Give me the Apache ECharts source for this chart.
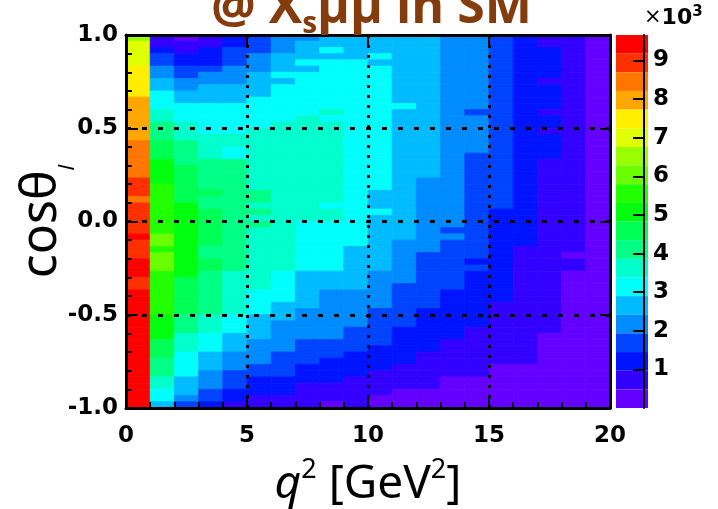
<!DOCTYPE html>
<html><head><meta charset="utf-8">
<script src="https://cdn.jsdelivr.net/npm/echarts/dist/echarts.min.js"></script>
<style>html,body{margin:0;padding:0;background:#fff}#c{width:718px;height:509px}</style>
</head><body><div id="c"></div>
<script>
// q^2 bin edges (GeV^2)
const q2Edges = [0,1,2,3,4,5,6,7,8,9,10,11,12,13,14,15,16,17,18,19,20];
// cos(theta_l) binning
const cosRange = [-1, 1];
const nCosBins = 60;
// colour-scale range (x10^3 events)
const zRange = [0, 9.66];
const xTicks = [0, 5, 10, 15, 20];
const yTicks = [-1.0, -0.5, 0.0, 0.5, 1.0];
const zTicks = [1, 2, 3, 4, 5, 6, 7, 8, 9];
const palette = ['#6300ff','#3300ff','#0014ff','#0044ff','#008bff','#00bbff','#00fffc','#00ffcc','#00ff85','#00ff55',
                 '#00ff0e','#22ff00','#69ff00','#99ff00','#e0ff00','#ffee00','#ffa700','#ff7700','#ff3000','#ff0000'];

// Entries per bin (x10^3), one array per q^2 bin, listed from cos = +1 (top) down to cos = -1 (bottom)
const c0 = [6.5,7.0,7.0,7.0,7.0,7.5,7.5,7.5,7.5,7.5, 8.0,8.0,8.0,8.0,8.0,8.0,8.0,8.5,8.5,8.5, 8.5,8.5,8.5,9.0,9.0,9.0,8.5,9.0,9.0,9.0, 9.0,9.0,9.4,9.0,9.0,9.0,9.4,9.4,9.4,9.0, 9.0,9.4,9.4,9.4,9.4,9.4,9.4,9.4,9.4,9.4, 9.4,9.4,9.4,9.4,9.4,9.4,9.4,9.4,9.4,9.4];
const c1 = [0.8,0.8,1.3,1.8,1.8,2.2,2.2,2.7,2.7,3.2, 3.2,3.2,3.7,3.7,4.2,4.2,4.2,4.6,4.6,4.6, 5.1,5.1,5.1,5.1,5.6,5.6,5.6,5.6,5.6,5.6, 5.6,5.6,6.1,6.1,5.6,6.1,6.1,6.1,5.6,5.6, 5.6,5.6,5.6,5.6,5.6,5.1,5.1,5.1,5.1,4.6, 4.6,4.6,4.2,4.2,4.2,3.7,3.7,3.2,3.2,2.7];
const c2 = [0.3,0.8,0.8,1.3,1.3,1.8,1.8,2.2,2.2,2.7, 2.7,3.2,3.2,3.2,3.7,3.7,3.7,4.2,4.2,4.2, 4.2,4.6,4.6,4.6,4.6,4.6,4.6,5.1,5.1,5.1, 5.1,5.1,5.1,5.1,5.1,5.1,5.1,5.1,5.1,4.6, 4.6,4.6,4.6,4.6,4.6,4.2,4.2,4.2,3.7,3.7, 3.7,3.2,3.2,3.2,3.2,2.7,2.7,2.7,2.2,1.8];
const c3 = [0.8,0.8,1.3,1.3,1.3,1.8,2.2,2.2,2.7,2.7, 2.7,3.2,3.2,3.2,3.2,3.2,3.7,3.7,3.7,3.7, 4.2,4.2,4.2,4.2,4.2,4.6,4.2,4.2,4.6,4.6, 4.6,4.6,4.6,4.6,4.2,4.2,4.6,4.6,4.2,4.2, 4.2,4.2,4.2,4.2,4.2,3.7,3.7,3.7,3.2,3.2, 3.2,2.7,2.7,2.7,2.2,2.2,2.2,1.8,1.8,1.3];
const c4 = [1.3,1.3,1.8,1.8,1.8,2.2,2.2,2.2,2.7,2.7, 2.7,3.2,3.2,3.2,3.2,3.2,3.7,3.7,3.2,3.2, 4.2,4.2,4.2,4.2,4.2,4.2,4.2,4.2,4.2,4.2, 4.2,4.2,4.2,4.2,4.2,4.2,4.2,4.2,3.7,3.7, 3.7,3.7,3.7,3.7,3.7,3.2,3.2,3.2,2.7,2.7, 2.7,2.2,2.2,2.2,1.8,1.8,1.8,1.3,1.3,0.8];
const c5 = [1.8,1.8,1.8,2.2,2.2,2.2,2.7,2.7,2.7,2.7, 3.2,3.2,3.2,3.2,3.2,3.7,3.7,3.7,3.7,3.7, 3.7,3.7,3.7,3.7,3.7,4.2,4.2,3.7,4.2,3.7, 4.2,3.7,3.7,3.7,3.7,3.7,3.7,3.7,3.7,3.7, 3.7,3.2,3.2,3.2,3.2,2.7,2.7,2.7,2.7,2.2, 2.2,2.2,2.2,1.8,1.8,1.3,1.3,1.3,0.8,0.8];
const c6 = [2.2,2.2,2.2,2.7,2.7,2.7,3.2,2.7,3.2,3.2, 3.2,3.2,3.2,3.2,3.7,3.7,3.7,3.7,3.7,3.7, 3.7,3.7,3.7,3.7,3.7,3.7,3.7,3.7,3.7,3.7, 3.7,3.7,3.7,3.7,3.7,3.7,3.7,3.7,3.2,3.2, 3.2,3.2,3.2,2.7,2.7,2.7,2.2,2.2,2.2,2.2, 2.2,1.8,1.8,1.8,1.8,1.3,1.3,1.3,0.8,0.8];
const c7 = [2.2,2.7,2.7,2.7,3.2,2.7,3.2,3.2,3.2,3.2, 3.2,3.2,3.2,3.7,3.7,3.7,3.7,3.7,3.7,3.7, 3.7,3.7,3.7,3.7,3.7,3.7,3.7,3.7,3.7,3.7, 3.2,3.2,3.2,3.2,3.2,3.2,3.2,3.2,2.7,2.7, 2.7,2.7,2.7,2.7,2.2,2.2,2.2,2.2,2.2,1.8, 1.8,1.8,1.8,1.3,1.3,1.3,0.8,0.8,0.8,0.8];
const c8 = [2.7,2.7,3.2,2.7,3.2,3.2,3.2,3.2,3.2,3.2, 3.2,3.2,3.7,3.2,3.7,3.7,3.7,3.7,3.7,3.7, 3.7,3.7,3.7,3.7,3.7,3.7,3.7,3.2,3.7,3.7, 3.2,3.2,3.2,3.2,3.2,3.2,3.2,3.2,2.7,2.7, 2.7,2.2,2.2,2.2,2.2,2.2,2.2,2.2,2.2,1.8, 1.8,1.8,1.3,1.3,1.3,1.3,0.8,0.8,0.8,0.3];
const c9 = [2.7,2.7,2.7,2.7,3.2,3.2,3.2,3.2,3.2,3.2, 3.2,3.2,3.2,3.2,3.2,3.2,3.2,3.2,3.2,3.2, 3.2,3.2,3.2,3.2,3.2,3.2,3.2,3.2,3.2,3.2, 3.2,3.2,3.2,3.2,2.7,2.7,2.7,2.7,2.7,2.7, 2.7,2.2,2.2,2.2,2.2,2.2,2.2,1.8,1.8,1.8, 1.8,1.3,1.3,1.3,1.3,0.8,0.8,0.8,0.8,0.8];
const c10 = [2.7,2.7,2.7,3.2,2.7,3.2,3.2,3.2,3.2,3.2, 3.2,3.2,3.2,3.2,3.2,3.2,3.2,3.2,3.2,3.2, 3.2,3.2,3.2,3.2,3.2,2.7,2.7,2.7,3.2,2.7, 2.7,2.7,2.7,2.7,2.7,2.7,2.7,2.7,2.2,2.2, 2.2,2.2,2.2,2.2,1.8,1.8,1.8,1.8,1.8,1.8, 1.3,1.3,1.3,1.3,0.8,0.8,0.8,0.8,0.3,0.3];
const c11 = [2.7,2.7,2.7,2.7,2.7,2.7,2.7,2.7,2.7,2.7, 2.7,3.2,2.7,2.7,2.7,2.7,2.7,2.7,2.7,2.7, 2.7,2.7,2.7,2.7,2.7,2.7,2.7,2.7,2.7,2.7, 2.7,2.7,2.7,2.2,2.2,2.2,2.2,2.2,2.2,2.2, 1.8,1.8,1.8,1.8,1.8,1.8,1.8,1.3,1.3,1.3, 1.3,1.3,1.3,0.8,0.8,0.8,0.8,0.3,0.3,0.3];
const c12 = [2.7,2.7,2.7,2.7,2.7,2.7,2.7,2.7,2.7,2.7, 2.7,2.7,2.7,2.7,2.7,2.7,2.7,2.7,2.7,2.7, 2.7,2.7,2.7,2.2,2.2,2.2,2.2,2.2,2.2,2.2, 2.2,2.2,2.2,2.2,2.2,1.8,1.8,1.8,1.8,1.8, 1.8,1.8,1.8,1.8,1.3,1.3,1.3,1.3,1.3,1.3, 1.3,0.8,0.8,0.8,0.8,0.8,0.8,0.3,0.3,0.3];
const c13 = [2.2,2.2,2.2,2.2,2.2,2.2,2.2,2.2,2.2,2.2, 2.2,2.2,2.2,2.2,2.2,2.2,2.2,2.2,2.2,2.2, 2.2,2.2,2.2,2.2,2.2,2.2,2.2,2.2,2.2,2.2, 2.2,1.8,2.2,1.8,1.8,1.8,1.8,1.8,1.8,1.8, 1.8,1.3,1.3,1.3,1.3,1.3,1.3,1.3,1.3,0.8, 0.8,0.8,0.8,0.8,0.8,0.3,0.3,0.3,0.3,0.3];
const c14 = [2.2,2.2,2.2,2.2,2.2,2.2,2.2,2.2,2.2,2.2, 2.2,2.2,1.8,2.2,2.2,2.2,2.2,2.2,2.2,1.8, 1.8,1.8,1.8,1.8,1.8,1.8,1.8,1.8,1.8,1.8, 1.8,1.8,1.8,1.8,1.8,1.8,1.3,1.8,1.3,1.3, 1.3,1.3,1.3,1.3,1.3,1.3,1.3,0.8,0.8,0.8, 0.8,0.8,0.8,0.8,0.8,0.3,0.3,0.3,0.3,0.3];
const c15 = [1.8,1.8,1.8,1.8,1.8,1.8,1.8,1.8,1.8,1.8, 1.8,1.8,1.8,1.8,1.8,1.8,1.8,1.8,1.8,1.8, 1.8,1.8,1.8,1.8,1.8,1.8,1.8,1.8,1.3,1.3, 1.3,1.3,1.3,1.3,1.3,1.3,1.3,1.3,1.3,1.3, 1.3,1.3,1.3,0.8,0.8,0.8,0.8,0.8,0.8,0.8, 0.8,0.8,0.8,0.3,0.3,0.3,0.3,0.3,0.3,0.3];
const c16 = [1.3,1.3,1.3,1.3,1.3,1.3,1.3,1.3,1.3,1.3, 1.3,1.3,1.3,1.3,1.3,1.3,1.3,1.3,1.3,1.3, 1.3,1.3,1.3,1.3,1.3,1.3,1.3,1.3,1.3,1.3, 1.3,1.3,1.3,1.3,0.8,0.8,0.8,0.8,0.8,0.8, 0.8,0.8,0.8,0.8,0.8,0.8,0.8,0.8,0.8,0.8, 0.8,0.8,0.8,0.3,0.3,0.3,0.3,0.3,0.3,0.3];
const c17 = [0.8,0.8,1.3,1.3,1.3,1.3,1.3,0.8,1.3,1.3, 1.3,1.3,0.8,1.3,1.3,0.8,1.3,1.3,1.3,1.3, 0.8,0.8,0.8,0.8,0.8,0.8,0.8,0.8,0.8,0.8, 0.8,0.8,0.8,0.8,0.8,0.8,0.8,0.8,0.8,0.8, 0.8,0.8,0.8,0.8,0.8,0.8,0.8,0.8,0.3,0.3, 0.3,0.3,0.3,0.3,0.3,0.3,0.3,0.3,0.3,0.3];
const c18 = [0.8,0.8,0.8,0.8,0.8,0.8,0.8,0.8,0.8,0.8, 0.8,0.8,0.8,0.8,0.8,0.8,0.8,0.8,0.8,0.8, 0.8,0.8,0.8,0.8,0.8,0.8,0.8,0.8,0.8,0.8, 0.8,0.8,0.8,0.8,0.8,0.3,0.8,0.8,0.3,0.3, 0.3,0.3,0.3,0.3,0.3,0.3,0.3,0.3,0.3,0.3, 0.3,0.3,0.3,0.3,0.3,0.3,0.3,0.3,0.3,0.3];
const c19 = [0.3,0.3,0.3,0.3,0.3,0.3,0.3,0.3,0.3,0.3, 0.3,0.3,0.3,0.3,0.3,0.3,0.3,0.3,0.3,0.3, 0.3,0.3,0.3,0.3,0.3,0.3,0.3,0.3,0.3,0.3, 0.3,0.3,0.3,0.3,0.3,0.3,0.3,0.3,0.3,0.3, 0.3,0.3,0.3,0.3,0.3,0.3,0.3,0.3,0.3,0.3, 0.3,0.3,0.3,0.3,0.3,0.3,0.3,0.3,0.3,0.3];
const columns = [c0,c1,c2,c3,c4,c5,c6,c7,c8,c9,c10,c11,c12,c13,c14,c15,c16,c17,c18,c19];

// ---- build histogram cells: [q2lo, q2hi, coslo, coshi, value]
const binW = (cosRange[1] - cosRange[0]) / nCosBins;
const cells = [];
columns.forEach(function (col, i) {
  col.forEach(function (v, r) {
    const hi = cosRange[1] - r * binW;
    cells.push([q2Edges[i], q2Edges[i + 1], hi - binW, hi, v]);
  });
});
const step = (zRange[1] - zRange[0]) / palette.length;
const pieces = palette.map(function (c, k) {
  return { min: zRange[0] + k * step, max: zRange[0] + (k + 1) * step, color: c };
});

const TICKFONT = 'DejaVu Sans';
const BLACK = '#000';
const chart = echarts.init(document.getElementById('c'), null, { renderer: 'canvas' });
const option = {
  animation: false,
  backgroundColor: '#fff',
  title: {
    text: '{a|@ X}{s|s}{a|μμ in SM}',
    left: 211, top: -21, padding: 0,
    textStyle: {
      rich: {
        a: { fontFamily: 'Open Sans', fontWeight: 'bold', fontSize: 50, lineHeight: 60, color: '#843C0C' },
        s: { fontFamily: 'Open Sans', fontWeight: 'bold', fontSize: 30, lineHeight: 30, verticalAlign: 'bottom', color: '#843C0C' }
      }
    }
  },
  grid: [
    { left: 126, top: 35, width: 484, height: 373, outerBoundsMode: 'none', containLabel: false },
    { left: 616, top: 35, width: 28, height: 373, outerBoundsMode: 'none', containLabel: false }
  ],
  visualMap: {
    type: 'piecewise', seriesIndex: 0, dimension: 4,
    pieces: pieces, orient: 'vertical',
    left: 616, top: 35, itemWidth: 32, itemHeight: 373 / 20, itemGap: 0,
    itemSymbol: 'rect', showLabel: false, selectedMode: false, hoverLink: false,
    padding: 0, z: 4
  },
  xAxis: [
    {
      type: 'value', gridIndex: 0, position: 'bottom', min: xTicks[0], max: xTicks[xTicks.length - 1], interval: 5,
      axisLine: { show: true, onZero: false, lineStyle: { color: BLACK, width: 3 } },
      axisTick: { show: true, inside: true, length: 12, lineStyle: { color: BLACK, width: 2 } },
      minorTick: { show: true, splitNumber: 5, length: 6, lineStyle: { color: BLACK, width: 2 } },
      axisLabel: { color: BLACK, fontFamily: TICKFONT, fontWeight: 'bold', fontSize: 23, margin: 17 },
      splitLine: { show: true, lineStyle: { color: BLACK, width: 3, type: [3, 7] } },
      name: '{q|q}{sup|2}{t| [GeV}{sup|2}{t|]}', nameLocation: 'middle', nameGap: 49, nameMoveOverlap: false,
      nameTextStyle: {
        rich: {
          q: { fontFamily: 'Noto Sans', fontStyle: 'italic', fontSize: 46, lineHeight: 56, color: BLACK },
          t: { fontFamily: 'Noto Sans', fontSize: 46, lineHeight: 56, color: BLACK },
          sup: { fontFamily: 'Noto Sans', fontSize: 27, lineHeight: 32, verticalAlign: 'top', color: BLACK }
        }
      },
      z: 5
    },
    {
      type: 'value', gridIndex: 0, position: 'top', min: 0, max: 20, interval: 5,
      axisLine: { show: true, onZero: false, lineStyle: { color: BLACK, width: 3 } },
      axisTick: { show: true, inside: true, length: 10, lineStyle: { color: BLACK, width: 2 } },
      axisLabel: { show: false }, splitLine: { show: false }, z: 5
    },
    { type: 'value', gridIndex: 1, show: false, min: 0, max: 1 }
  ],
  yAxis: [
    {
      type: 'value', gridIndex: 0, position: 'left', min: yTicks[0], max: yTicks[yTicks.length - 1], interval: 0.5,
      axisLine: { show: true, onZero: false, lineStyle: { color: BLACK, width: 3 } },
      axisTick: { show: true, inside: true, length: 12, lineStyle: { color: BLACK, width: 2 } },
      minorTick: { show: true, splitNumber: 5, length: 6, lineStyle: { color: BLACK, width: 2 } },
      axisLabel: { color: BLACK, fontFamily: TICKFONT, fontWeight: 'bold', fontSize: 23, margin: 8,
        formatter: function (v) { return v.toFixed(1); } },
      splitLine: { show: true, lineStyle: { color: BLACK, width: 3, type: [5, 11] } },
      name: '{a|cosθ}{l|l}', nameLocation: 'middle', nameRotate: 90, nameGap: 47, nameMoveOverlap: false,
      nameTextStyle: {
        rich: {
          a: { fontFamily: 'Noto Sans', fontSize: 50, lineHeight: 50, verticalAlign: 'top', color: BLACK },
          l: { fontFamily: 'Noto Sans', fontStyle: 'italic', fontSize: 22, lineHeight: 62, verticalAlign: 'bottom', color: BLACK }
        }
      },
      z: 5
    },
    {
      type: 'value', gridIndex: 0, position: 'right', min: -1, max: 1, interval: 0.5,
      axisLine: { show: true, onZero: false, lineStyle: { color: BLACK, width: 3 } },
      axisTick: { show: true, inside: true, length: 10, lineStyle: { color: BLACK, width: 2 } },
      axisLabel: { show: false }, splitLine: { show: false }, z: 5
    },
    {
      type: 'value', gridIndex: 1, position: 'right', min: zRange[0], max: zRange[1], interval: 1,
      axisLine: { show: true, onZero: false, lineStyle: { color: BLACK, width: 2 } },
      axisTick: { show: true, inside: true, length: 11, customValues: zTicks, lineStyle: { color: BLACK, width: 2 } },
      axisLabel: { color: BLACK, fontFamily: TICKFONT, fontWeight: 'bold', fontSize: 23, margin: 9, customValues: zTicks,
        formatter: function (v) { return (v >= 1 && Number.isInteger(v)) ? String(v) : ''; } },
      splitLine: { show: false },
      name: '{x|×}{n|10}{e|3}', nameLocation: 'end', nameGap: 4,
      nameTextStyle: {
        align: 'left', verticalAlign: 'bottom',
        rich: {
          x: { fontFamily: TICKFONT, fontSize: 21, lineHeight: 26, color: BLACK },
          n: { fontFamily: TICKFONT, fontWeight: 'bold', fontSize: 22, lineHeight: 26, color: BLACK },
          e: { fontFamily: TICKFONT, fontWeight: 'bold', fontSize: 15, lineHeight: 16, verticalAlign: 'top', color: BLACK }
        }
      },
      z: 6
    }
  ],
  series: [
    {
      type: 'custom', xAxisIndex: 0, yAxisIndex: 0, silent: true, z: 2,
      encode: { x: [0, 1], y: [2, 3] },
      data: cells,
      renderItem: function (params, api) {
        const p0 = api.coord([api.value(0), api.value(3)]);
        const p1 = api.coord([api.value(1), api.value(2)]);
        const col = api.visual('color');
        return { type: 'rect', shape: { x: p0[0], y: p0[1], width: p1[0] - p0[0], height: p1[1] - p0[1] },
                 style: { fill: col, stroke: col, lineWidth: 0.8 } };
      }
    }
  ]
};
chart.setOption(option);
</script></body></html>
